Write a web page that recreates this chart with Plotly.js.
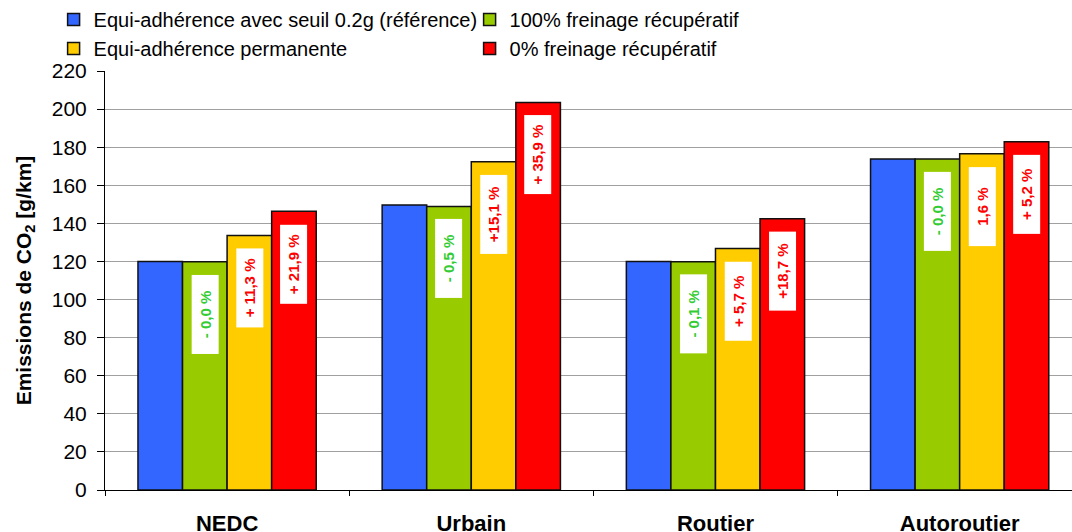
<!DOCTYPE html>
<html><head><meta charset="utf-8">
<script src="https://cdn.plot.ly/plotly-3.0.1.min.js"></script>
<style>html,body{margin:0;padding:0;background:#fff;overflow:hidden}</style>
</head><body><div id="chart" style="width:1072px;height:532px"></div>
<script>
const categories = ["NEDC", "Urbain", "Routier", "Autoroutier"];
const seriesNames = ["Equi-adhérence avec seuil 0.2g (référence)", "100% freinage récupératif", "Equi-adhérence permanente", "0% freinage récupératif"];
const reference = [120, 149.7, 120, 173.8];
const regen100 = [119.9, 148.9, 119.9, 173.8];
const permanent = [133.6, 172.3, 126.8, 176.6];
const regen0 = [146.3, 203.5, 142.4, 182.8];
const labelsRegen100 = ["- 0,0 %", "- 0,5 %", "- 0,1 %", "- 0,0 %"];
const labelsPermanent = ["+ 11,3 %", "+15,1 %", "+ 5,7 %", "1,6 %"];
const labelsRegen0 = ["+ 21,9 %", "+ 35,9 %", "+18,7 %", "+ 5,2 %"];
const colors = ["#3366ff", "#99cc00", "#ffcc00", "#ff0000"];

const series = [reference, regen100, permanent, regen0];
const labelSets = [null, labelsRegen100, labelsPermanent, labelsRegen0];
const labelColors = [null, "#33cc33", "#ff0000", "#ff0000"];
const font = "Liberation Sans, Arial, sans-serif";
const bargap = 0.27;

const traces = series.map((vals, i) => ({
  type: "bar", x: categories, y: vals, name: seriesNames[i],
  marker: {color: colors[i], line: {color: "#111", width: 1.5}},
  hoverinfo: "y"
}));

const annotations = [];
const bw = (1 - bargap) / series.length;
labelSets.forEach((labs, i) => {
  if (!labs) return;
  labs.forEach((t, c) => {
    annotations.push({
      x: c - (1 - bargap) / 2 + (i + 0.5) * bw, y: series[i][c],
      xref: "x", yref: "y", text: "<b>" + t + "</b>", showarrow: false,
      textangle: -90, yanchor: "top", xanchor: "center", yshift: -13,
      bgcolor: "#ffffff", width: 79, height: 27, borderpad: 0, borderwidth: 0,
      font: {family: font, size: 15, color: labelColors[i]}
    });
  });
});

const layout = {
  width: 1072, height: 532,
  margin: {l: 105, r: 0, t: 71, b: 42, autoexpand: false},
  paper_bgcolor: "#fff", plot_bgcolor: "#fff",
  font: {family: font, size: 20, color: "#000"},
  barmode: "group", bargap: bargap, bargroupgap: 0,
  showlegend: true,
  legend: {orientation: "h", xref: "container", yref: "container", x: 0.05, xanchor: "left", y: 1.0, yanchor: "top",
    entrywidth: 371, font: {family: font, size: 20}, itemwidth: 30, tracegroupgap: 0,
    bgcolor: "rgba(0,0,0,0)"},
  xaxis: {type: "category", range: [-0.5, 3.46], showline: true, linecolor: "#000", linewidth: 1,
    ticks: "outside", tickson: "boundaries", ticklen: 5, tickcolor: "#000",
    ticklabelstandoff: 14, tickfont: {family: font, size: 22, color: "#000", weight: "bold"},
    automargin: false, showgrid: false, fixedrange: true},
  yaxis: {range: [0, 220], dtick: 20, showline: true, linecolor: "#000", linewidth: 1,
    ticks: "outside", ticklen: 7, tickcolor: "#000", showgrid: true, gridcolor: "#a0a0a0", gridwidth: 1,
    ticklabelstandoff: 6,
    zeroline: false, tickfont: {family: font, size: 21, color: "#000"}, automargin: false,
    title: {text: "<b>Emissions de CO<sub>2</sub> [g/km]</b>", font: {family: font, size: 21, color: "#000"}, standoff: 14}},
  annotations: annotations
};

Plotly.newPlot("chart", traces, layout, {staticPlot: true});
</script></body></html>
